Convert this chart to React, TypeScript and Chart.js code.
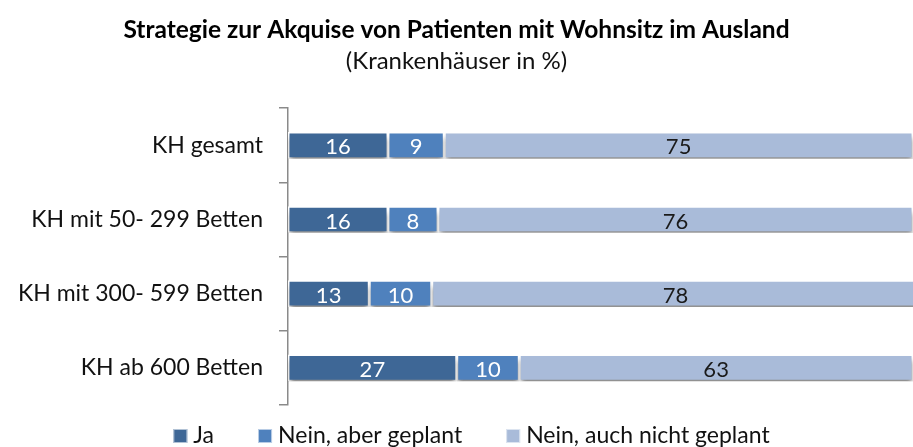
import React, { useEffect, useRef } from "react";
import { Chart, registerables } from "chart.js";

Chart.register(...registerables);

const categories = ["KH gesamt", "KH mit 50- 299 Betten", "KH mit 300- 599 Betten", "KH ab 600 Betten"];
const seriesNames = ["Ja", "Nein, aber geplant", "Nein, auch nicht geplant"];
const jaValues = [16, 16, 13, 27];
const geplantValues = [9, 8, 10, 10];
const nichtValues = [75, 76, 78, 63];
const titleText = "Strategie zur Akquise von Patienten mit Wohnsitz im Ausland";
const subtitleText = "(Krankenhäuser in %)";

const colors = ["#3E6796", "#4F81BD", "#A9BBD9"];
const labelColors = ["#ffffff", "#ffffff", "#1a1a1a"];
const FONT = "Lato, 'Open Sans', sans-serif";

const shadowPlugin = {
  id: "barShadow",
  beforeDatasetsDraw(chart: any) {
    const ctx = chart.ctx;
    ctx.save();
    ctx.shadowColor = "rgba(0,0,0,0.45)";
    ctx.shadowBlur = 5;
    ctx.shadowOffsetX = 0;
    ctx.shadowOffsetY = 5;
  },
  afterDatasetsDraw(chart: any) {
    chart.ctx.restore();
  },
};

const labelPlugin = {
  id: "valueLabels",
  afterDraw(chart: any) {
    const ctx = chart.ctx;
    ctx.save();
    ctx.font = `22px ${FONT}`;
    ctx.textAlign = "center";
    ctx.textBaseline = "middle";
    chart.data.datasets.forEach((ds: any, di: number) => {
      const meta = chart.getDatasetMeta(di);
      meta.data.forEach((el: any, i: number) => {
        const c = el.getCenterPoint();
        ctx.fillStyle = labelColors[di];
        ctx.fillText(String(ds.data[i]), c.x, c.y + 2);
      });
    });
    ctx.restore();
  },
};

const legendPlugin = {
  id: "bottomLegend",
  afterDraw(chart: any) {
    const ctx = chart.ctx;
    ctx.save();
    ctx.font = `23px ${FONT}`;
    ctx.textBaseline = "middle";
    ctx.textAlign = "left";
    const box = 14;
    const boxGap = 6;
    const itemGap = 44;
    const items = chart.data.datasets.map((ds: any) => ({
      text: ds.label,
      color: ds.backgroundColor,
      w: box + boxGap + ctx.measureText(ds.label).width,
    }));
    const total = items.reduce((s: number, it: any) => s + it.w, 0) + itemGap * (items.length - 1);
    let x = chart.width / 2 + 15 - total / 2;
    const y = 436;
    items.forEach((it: any) => {
      ctx.fillStyle = it.color;
      ctx.fillRect(x, y - box / 2, box, box);
      ctx.strokeStyle = "rgba(255,255,255,0.6)";
      ctx.lineWidth = 1;
      ctx.strokeRect(x + 0.5, y - box / 2 + 0.5, box - 1, box - 1);
      ctx.fillStyle = "#111111";
      ctx.fillText(it.text, x + box + boxGap, y);
      x += it.w + itemGap;
    });
    ctx.restore();
  },
};

export default function App() {
  const ref = useRef<HTMLCanvasElement>(null);
  useEffect(() => {
    document.body.style.margin = "0";
    const values = [jaValues, geplantValues, nichtValues];
    const chart = new Chart(ref.current!, {
      type: "bar",
      data: {
        labels: categories,
        datasets: seriesNames.map((name, k) => ({
          label: name,
          data: values[k],
          backgroundColor: colors[k],
          borderColor: "#ffffff",
          borderWidth: 1.5,
          borderSkipped: false,
          categoryPercentage: 1,
          barPercentage: 0.36,
        })),
      },
      options: {
        indexAxis: "y",
        animation: false,
        responsive: false,
        maintainAspectRatio: false,
        layout: { padding: { top: 0, right: 0, bottom: 42, left: 0 } },
        scales: {
          x: { stacked: true, display: false, min: 0, max: 100 },
          y: {
            stacked: true,
            afterFit(scale: any) {
              scale.width = 288;
            },
            border: { display: true, color: "#8a8a8a", width: 1.5 },
            grid: {
              display: true,
              drawOnChartArea: false,
              drawTicks: true,
              tickLength: 9,
              color: "#8a8a8a",
              lineWidth: 1.5,
              offset: true,
            },
            ticks: {
              color: "#111111",
              font: { family: FONT, size: 23 },
              padding: 16,
            },
          },
        },
        plugins: {
          title: {
            display: true,
            text: titleText,
            color: "#000000",
            font: { family: FONT, size: 24.5, weight: "bold" },
            padding: { top: 15, bottom: 2 },
          },
          subtitle: {
            display: true,
            text: subtitleText,
            color: "#111111",
            font: { family: FONT, size: 24 },
            padding: { top: 0, bottom: 33 },
          },
          legend: { display: false },
          tooltip: { enabled: false },
        },
      },
      plugins: [shadowPlugin, labelPlugin, legendPlugin],
    });
    return () => chart.destroy();
  }, []);
  return (
    <div style={{ position: "absolute", left: 0, top: 0, width: 913, height: 447 }}>
      <canvas ref={ref} width={913} height={447} style={{ width: 913, height: 447 }} />
    </div>
  );
}
